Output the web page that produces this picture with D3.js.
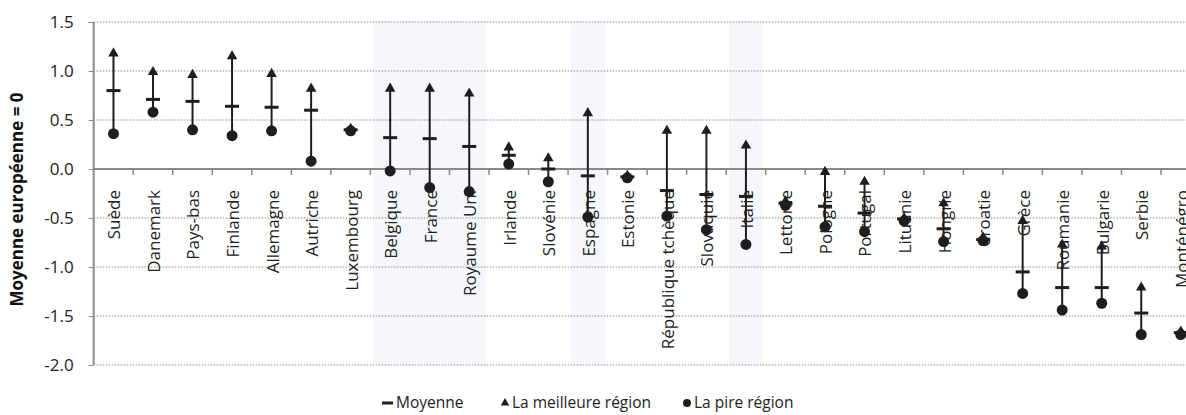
<!DOCTYPE html>
<html><head><meta charset="utf-8">
<script src="https://cdn.jsdelivr.net/npm/d3@7"></script>
<style>body{margin:0;background:#fff}svg{display:block}</style>
</head><body>
<svg id="c" width="1186" height="415"></svg>
<script>
const categories = ["Suède","Danemark","Pays-bas","Finlande","Allemagne","Autriche","Luxembourg","Belgique","France","Royaume Uni","Irlande","Slovénie","Espagne","Estonie","République tchèque","Slovaquie","Italie","Lettonie","Pologne","Portugal","Lituanie","Hongrie","Croatie","Grèce","Roumanie","Bulgarie","Serbie","Monténégro"];
const moyenne = [0.80,0.71,0.69,0.64,0.63,0.60,0.40,0.32,0.31,0.23,0.14,0.00,-0.07,-0.08,-0.22,-0.26,-0.28,-0.35,-0.38,-0.45,-0.51,-0.61,-0.72,-1.05,-1.21,-1.21,-1.47,-1.67];
const meilleure = [1.18,0.99,0.96,1.15,0.97,0.82,0.41,0.82,0.82,0.77,0.22,0.11,0.57,-0.07,0.39,0.39,0.24,-0.33,-0.03,-0.13,-0.50,-0.35,-0.70,-0.53,-0.77,-0.79,-1.21,-1.66];
const pire = [0.36,0.58,0.40,0.34,0.39,0.08,0.39,-0.02,-0.19,-0.23,0.05,-0.13,-0.49,-0.09,-0.48,-0.62,-0.77,-0.37,-0.59,-0.64,-0.53,-0.74,-0.73,-1.27,-1.44,-1.37,-1.69,-1.69];
const highlighted = ["Belgique","France","Royaume Uni","Espagne","Italie"];
const yTicks = [1.5,1.0,0.5,0.0,-0.5,-1.0,-1.5,-2.0];
const yTitle = "Moyenne européenne = 0";
const legendLabels = ["Moyenne","La meilleure région","La pire région"];

const svg = d3.select("#c");
const FONT = "'Open Sans', sans-serif";
const left = 93.7, bw = 39.53;
const x = d3.scaleBand().domain(categories).range([left, left + bw*categories.length]).padding(0);
const y = d3.scaleLinear().domain([-2, 1.5]).range([365, 22]);
const cx = c => x(c) + x.bandwidth()/2;
const dark = "#1e1e1e";

// highlighted shading (merge consecutive runs)
const runs = [];
categories.forEach((c,i) => {
  if (highlighted.includes(c)) {
    const last = runs[runs.length-1];
    if (last && last.end === i-1) last.end = i; else runs.push({start:i,end:i});
  }
});
svg.append("g").selectAll("rect").data(runs).join("rect")
  .attr("x", d => cx(categories[d.start]) - 17)
  .attr("width", d => cx(categories[d.end]) - cx(categories[d.start]) + 34)
  .attr("y", y(1.5)).attr("height", y(-2) - y(1.5))
  .attr("fill", "#f5f7fc");

// gridlines
svg.append("g").selectAll("line").data(yTicks.filter(v => v !== 0)).join("line")
  .attr("x1", left).attr("x2", 1186)
  .attr("y1", d => y(d)).attr("y2", d => y(d))
  .attr("stroke", "#8a8a8a").attr("stroke-width", 1).attr("stroke-dasharray", "1.5,1.5");

// y axis
const yAxis = d3.axisLeft(y).tickValues(yTicks).tickFormat(d => d.toFixed(1)).tickSize(5).tickPadding(15);
const gy = svg.append("g").attr("transform", `translate(${left},0)`).call(yAxis);
gy.select(".domain").attr("stroke", "#8a8a8a").attr("stroke-width", 2).attr("d", `M0,${y(1.5)}V${y(-2)}`);
gy.selectAll(".tick line").attr("stroke", "#8a8a8a");
gy.selectAll(".tick text").attr("font-family", FONT).attr("font-size", 17).attr("fill", "#222");

// zero line with category ticks
svg.append("line").attr("x1", left).attr("x2", 1186).attr("y1", y(0)).attr("y2", y(0))
  .attr("stroke", "#8a8a8a").attr("stroke-width", 2);
svg.append("g").selectAll("line").data(categories.slice(1)).join("line")
  .attr("x1", d => x(d)).attr("x2", d => x(d))
  .attr("y1", y(0)).attr("y2", y(0) + 6)
  .attr("stroke", "#8a8a8a").attr("stroke-width", 1.5);

// category labels
svg.append("g").selectAll("text").data(categories).join("text")
  .attr("transform", d => `translate(${cx(d)+1},190) rotate(-90)`)
  .attr("text-anchor", "end").attr("dy", "0.35em")
  .attr("font-family", FONT).attr("font-size", 17).attr("fill", "#222")
  .text(d => d);

// y title
svg.append("text").attr("transform", `translate(17.5,199.5) rotate(-90)`)
  .attr("text-anchor", "middle").attr("dy", "0.35em")
  .attr("font-family", FONT).attr("font-size", 17).attr("font-weight", "bold").attr("fill", "#111")
  .text(yTitle);

// data
const rows = categories.map((c,i) => ({c, m: moyenne[i], hi: meilleure[i], lo: pire[i]}));
const g = svg.append("g");
g.selectAll("line.v").data(rows).join("line").attr("class","v")
  .attr("x1", d => cx(d.c)).attr("x2", d => cx(d.c))
  .attr("y1", d => y(d.lo)).attr("y2", d => y(d.hi))
  .attr("stroke", dark).attr("stroke-width", 2);
g.selectAll("line.m").data(rows).join("line").attr("class","m")
  .attr("x1", d => cx(d.c) - 7).attr("x2", d => cx(d.c) + 7)
  .attr("y1", d => y(d.m)).attr("y2", d => y(d.m))
  .attr("stroke", dark).attr("stroke-width", 3);
const tri = d3.symbol().type(d3.symbolTriangle).size(48);
g.selectAll("path.t").data(rows).join("path").attr("class","t")
  .attr("d", tri).attr("transform", d => `translate(${cx(d.c)},${y(d.hi)})`).attr("fill", dark);
g.selectAll("circle").data(rows).join("circle")
  .attr("cx", d => cx(d.c)).attr("cy", d => y(d.lo)).attr("r", 5.5).attr("fill", dark);

// legend
const ly = 403;
const lg = svg.append("g").attr("font-family", FONT).attr("font-size", 15.5).attr("fill", "#222");
lg.append("line").attr("x1", 382).attr("x2", 393).attr("y1", ly).attr("y2", ly).attr("stroke", dark).attr("stroke-width", 3);
lg.append("text").attr("x", 396).attr("y", ly).attr("dy", "0.35em").text(legendLabels[0]);
lg.append("path").attr("d", d3.symbol().type(d3.symbolTriangle).size(32)).attr("transform", `translate(505,${ly})`).attr("fill", dark);
lg.append("text").attr("x", 512).attr("y", ly).attr("dy", "0.35em").text(legendLabels[1]);
lg.append("circle").attr("cx", 687).attr("cy", ly).attr("r", 4).attr("fill", dark);
lg.append("text").attr("x", 694).attr("y", ly).attr("dy", "0.35em").text(legendLabels[2]);
</script>
</body></html>
